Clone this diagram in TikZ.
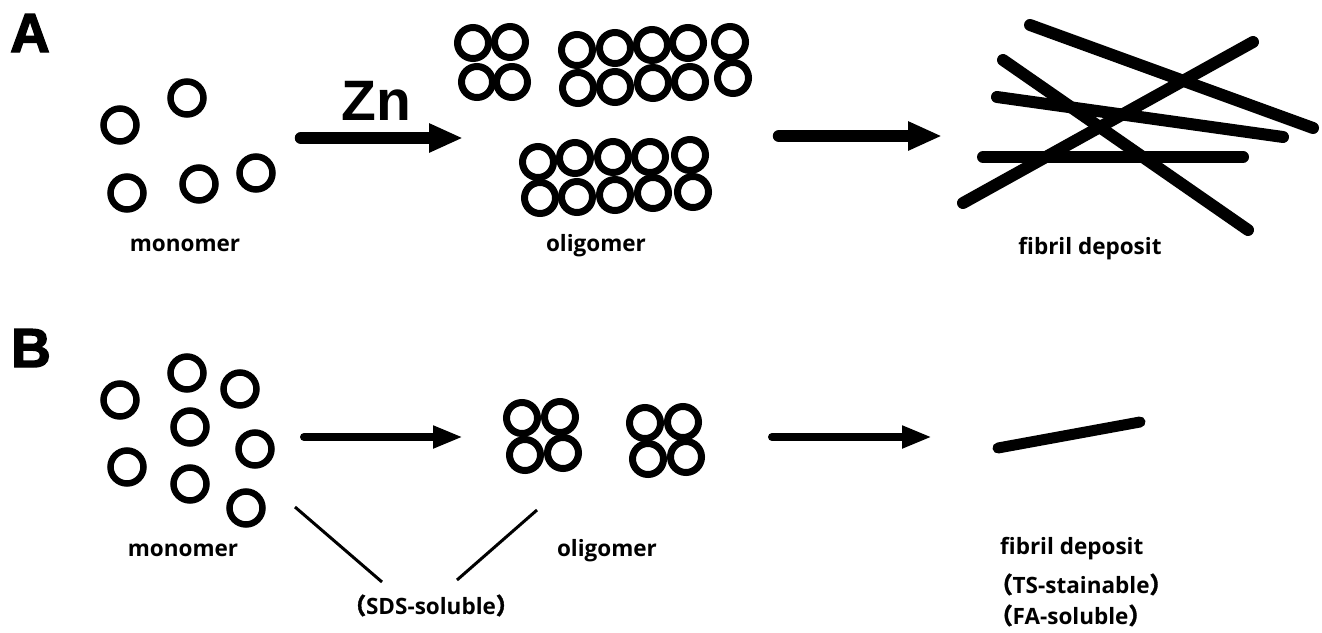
\documentclass[tikz,border=0pt]{standalone}
\usepackage{fontspec}
\setmainfont{Open Sans}
\newfontfamily\headfont[BoldFeatures={FakeBold=2.5}]{Liberation Sans}
\newfontfamily\metalfont{Liberation Sans}
\newfontfamily\cjk[FakeBold=1.5]{Noto Sans CJK SC}
\usetikzlibrary{arrows.meta}

\begin{document}
\begin{tikzpicture}[x=1pt,y=-1pt,
  ring/.style={circle,draw,line width=6.5pt,minimum size=33pt,inner sep=0pt},
  oring/.style={circle,draw,line width=7pt,minimum size=31pt,inner sep=0pt},
  fibril/.style={line width=12pt,line cap=round},
  bigflow/.style={line width=12.5pt,line cap=round,-{Triangle[length=34pt,width=27pt]}},
  smallflow/.style={line width=8pt,line cap=round,-{Triangle[length=30pt,width=21pt]}},
  guide/.style={line width=3pt},
  lbl/.style={font=\fontsize{22.5}{27}\selectfont\bfseries,anchor=base,inner sep=0pt},
  panel/.style={font=\headfont\fontsize{55}{60}\selectfont\bfseries,anchor=base,inner sep=0pt},
]
\useasboundingbox (0,0) rectangle (1322,632);

% ---------- panel A ----------
\node[panel] (pA) at (30,52) {A};

% scattered monomers
\foreach \p [count=\i] in {(120,125),(187,98),(127,193),(199,184),(256,173)}
  \node[ring] (am\i) at \p {};
\node[lbl] (amono) at (185,251) {monomer};

% zinc-driven aggregation
\coordinate (a1s) at (301,138);
\coordinate (a1e) at (463,138);
\draw[bigflow] (a1s) -- (a1e);
\node[font=\metalfont\fontsize{57}{60}\selectfont\bfseries,anchor=base,inner sep=0pt] (zn) at (376,120) {Zn};

% oligomer clusters
\foreach \p [count=\i] in {(473,43),(510,42),(477,82),(512,82)}
  \node[oring] (ao1\i) at \p {};
\foreach \p [count=\i] in {(577,50),(615,48),(652,45),(688,43),(730,42),
                           (578,88),(615,87),(653,83),(690,82),(733,78)}
  \node[oring] (ao2\i) at \p {};
\foreach \p [count=\i] in {(538,162),(575,158),(613,157),(650,157),(690,155),
                           (540,198),(577,197),(615,195),(653,193),(693,192)}
  \node[oring] (ao3\i) at \p {};
\node[lbl] (aolig) at (596,251) {oligomer};

% fibril formation
\coordinate (a2s) at (779,136);
\coordinate (a2e) at (942,136);
\draw[bigflow] (a2s) -- (a2e);

% tangled fibrils
\draw[fibril] (1030,25)  -- (1313,128);
\draw[fibril] (1253,42)  -- (963,203);
\draw[fibril] (1003,60)  -- (1248,230);
\draw[fibril] (997,97)   -- (1283,137);
\draw[fibril] (983,157)  -- (1243,157);
\node[lbl] (afib) at (1090,254) {fibril deposit};

% ---------- panel B ----------
\node[panel] (pB) at (31,367) {B};

\foreach \p [count=\i] in {(120,400),(187,373),(240,389),(190,427),
                           (255,449),(127,467),(190,484),(246,508)}
  \node[ring] (bm\i) at \p {};
\node[lbl] (bmono) at (183,556) {monomer};

\coordinate (b1s) at (304,437);
\coordinate (b1e) at (463,437);
\draw[smallflow] (b1s) -- (b1e);

\foreach \p [count=\i] in {(522,418),(560,417),(525,455),(563,453)}
  \node[oring] (bo1\i) at \p {};
\foreach \p [count=\i] in {(645,423),(683,422),(648,459),(686,457)}
  \node[oring] (bo2\i) at \p {};
\node[lbl] (bolig) at (607,556) {oligomer};

\coordinate (b2s) at (772,437);
\coordinate (b2e) at (932,437);
\draw[smallflow] (b2s) -- (b2e);

% single short fibril
\draw[line width=11pt,line cap=round] (998,448) -- (1140,422);

\node[lbl,anchor=base west] (bfib) at (1000,554) {fibril deposit};
\node[lbl,anchor=base west] (bts) at (990,593) {{\cjk （}TS-stainable{\cjk ）}};
\node[lbl,anchor=base west] (bfa) at (990,624) {{\cjk （}FA-soluble{\cjk ）}};

% solubility annotation
\node[lbl] (sds) at (431,614) {{\cjk （}SDS-soluble{\cjk ）}};
\coordinate (g1a) at (295,507);
\coordinate (g1b) at (382,582);
\coordinate (g2a) at (537,510);
\coordinate (g2b) at (457,580);
\draw[guide] (g1a) -- (g1b);
\draw[guide] (g2a) -- (g2b);
\end{tikzpicture}
\end{document}
